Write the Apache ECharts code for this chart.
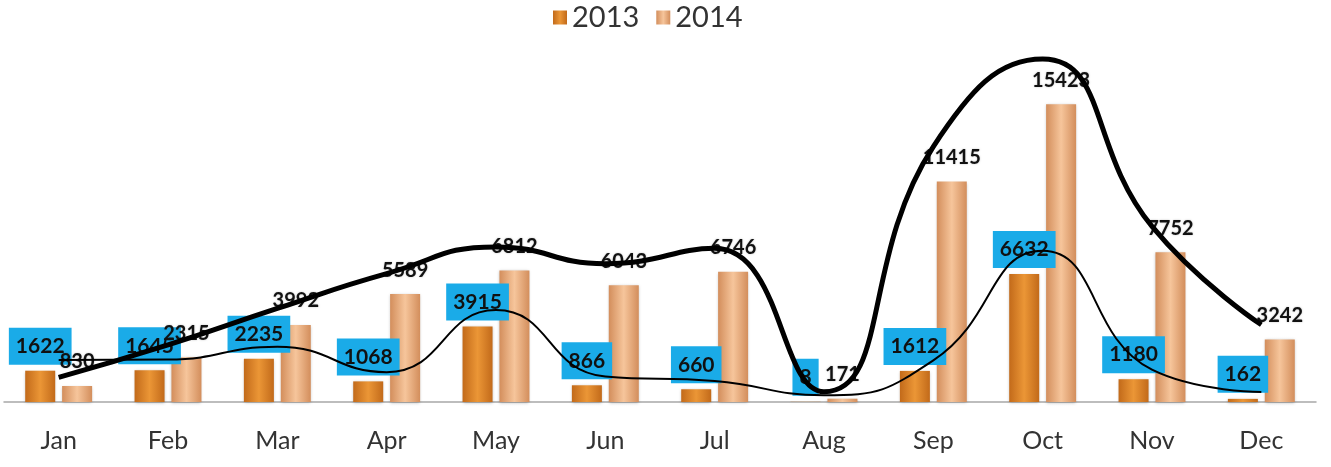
<!DOCTYPE html>
<html>
<head>
<meta charset="utf-8">
<script src="https://cdn.jsdelivr.net/npm/echarts@6/dist/echarts.min.js"></script>
<style>
  html, body { margin: 0; padding: 0; background: #fff; }
  #mycharts { width: 1331px; height: 467px; }
</style>
</head>
<body>
<div id="mycharts"></div>
<script>
// chart values
const months = ['Jan', 'Feb', 'Mar', 'Apr', 'May', 'Jun', 'Jul', 'Aug', 'Sep', 'Oct', 'Nov', 'Dec'];
const values2013 = [1622, 1645, 2235, 1068, 3915, 866, 660, 8, 1612, 6632, 1180, 162];
const values2014 = [830, 2315, 3992, 5589, 6812, 6043, 6746, 171, 11415, 15423, 7752, 3242];

const FONT = 'Lato, "Liberation Sans", sans-serif';

const barGradient = (edge, mid) => new echarts.graphic.LinearGradient(0, 0, 1, 0, [
    {offset: 0, color: edge},
    {offset: 0.5, color: mid},
    {offset: 1, color: edge}
]);

const chart = echarts.init(document.getElementById('mycharts'));

chart.setOption({
    animation: false,
    backgroundColor: '#ffffff',
    legend: {
        data: ['2013', '2014'],
        top: -2,
        left: 548,
        itemWidth: 14,
        itemHeight: 14,
        itemGap: 17,
        icon: 'rect',
        textStyle: {fontSize: 29, color: '#333', fontFamily: FONT}
    },
    grid: {left: 4, right: 15, top: 40, bottom: 65, containLabel: false},
    xAxis: {
        type: 'category',
        data: months,
        axisLine: {lineStyle: {color: '#a8a8a8', width: 1.5}},
        axisTick: {show: false},
        axisLabel: {fontSize: 25, color: '#333', fontFamily: FONT, margin: 26}
    },
    yAxis: [
        {type: 'value', min: 0, max: 18750, show: false, splitLine: {show: false}},
        {type: 'value', min: -300, max: 16300, show: false, splitLine: {show: false}}
    ],
    series: [
        {
            name: '2013',
            type: 'bar',
            data: values2013,
            barWidth: 30,
            barGap: '23%',
            itemStyle: {
                color: barGradient('#c26a1a', '#eb9636'),
                shadowColor: 'rgba(0,0,0,0.25)',
                shadowBlur: 3,
                shadowOffsetY: 1
            },
            label: {
                show: true,
                position: 'top',
                distance: 6,
                backgroundColor: '#1aabe8',
                padding: [8, 7],
                color: '#111',
                fontSize: 21,
                fontWeight: 'bold',
                fontFamily: FONT
            }
        },
        {
            name: '2014',
            type: 'bar',
            data: values2014,
            barWidth: 30,
            itemStyle: {
                color: barGradient('#d38e5c', '#f6c59b'),
                shadowColor: 'rgba(0,0,0,0.25)',
                shadowBlur: 3,
                shadowOffsetY: 1
            },
            label: {
                show: true,
                position: 'top',
                distance: 14,
                color: '#111',
                fontSize: 20,
                fontWeight: 'bold',
                fontFamily: FONT,
                textShadowColor: 'rgba(0,0,0,0.25)',
                textShadowBlur: 2
            }
        },
        {
            name: 'trend2014',
            type: 'line',
            yAxisIndex: 1,
            data: values2014,
            smooth: 0.5,
            showSymbol: false,
            z: 10,
            lineStyle: {color: '#000', width: 5},
            itemStyle: {color: '#000'}
        },
        {
            name: 'trend2013',
            type: 'line',
            yAxisIndex: 1,
            data: values2013,
            smooth: 0.5,
            showSymbol: false,
            z: 10,
            lineStyle: {color: '#000', width: 2},
            itemStyle: {color: '#000'}
        }
    ]
});
</script>
</body>
</html>
